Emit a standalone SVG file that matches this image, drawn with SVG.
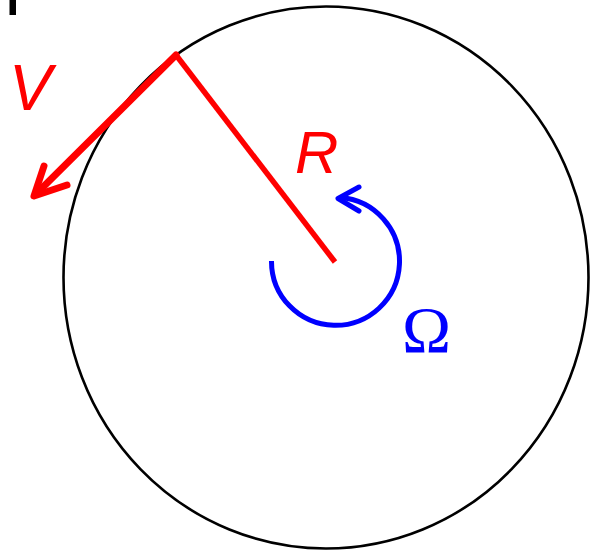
<svg xmlns="http://www.w3.org/2000/svg" width="590" height="552" viewBox="0 0 590 552">
<style>
.red{stroke:#ff0000;fill:none;stroke-linecap:round;stroke-linejoin:round}
.blue{stroke:#0000ff;fill:none;stroke-linejoin:round;stroke-linecap:round}
</style>
<rect width="590" height="552" fill="#ffffff"/>
<rect x="9.5" y="0" width="6.5" height="15" fill="#000000"/>
<g id="disk">
<ellipse cx="326" cy="277.5" rx="262.5" ry="271" fill="none" stroke="#000000" stroke-width="2.6"/>
</g>
<g id="connectors">
<line class="red" x1="176" y1="55" x2="335" y2="262" stroke-width="5.5" style="stroke-linecap:butt"/>
<line class="red" x1="176" y1="55" x2="36" y2="194" stroke-width="7"/>
<polyline class="red" points="44,166 34,196 67,185" stroke-width="7"/>
<path class="blue" d="M 271.5 261 A 64 64 0 1 0 340 197.5" stroke-width="5" style="stroke-linecap:butt"/>
<polyline class="blue" points="359,187 338,198.5 359,211" stroke-width="5"/>
</g>
<g id="labels">
<text x="9" y="110" font-family="Liberation Sans, Arial, sans-serif" font-style="italic" font-size="64" fill="#ff0000">V</text>
<text x="295" y="173" font-family="Liberation Sans, Arial, sans-serif" font-style="italic" font-size="60" fill="#ff0000">R</text>
<text x="402" y="352" font-family="Liberation Serif, Times New Roman, serif" font-size="66" fill="#0000ff">Ω</text>
</g>
</svg>
